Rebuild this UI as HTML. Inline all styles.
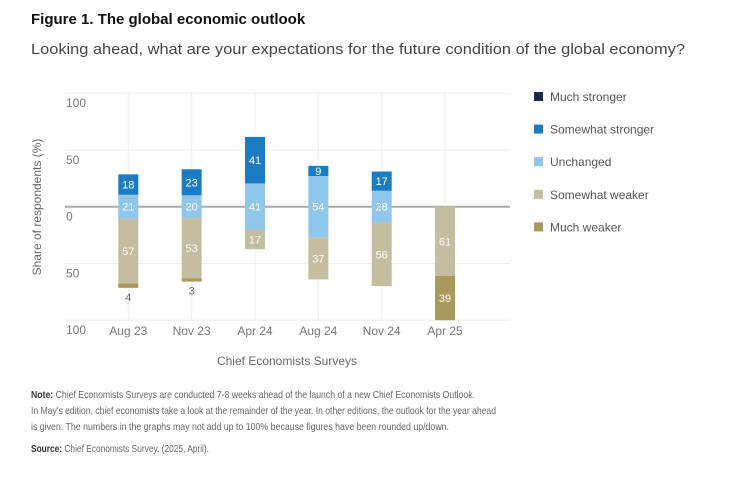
<!DOCTYPE html>
<html><head><meta charset="utf-8"><style>
body{margin:0;background:#fff;width:736px;height:475px;overflow:hidden;font-family:"Liberation Sans",sans-serif}
</style></head><body>
<svg id="c" width="736" height="475" xmlns="http://www.w3.org/2000/svg" font-family="Liberation Sans, sans-serif">
<text x="31" y="24" font-size="15" font-weight="bold" fill="#111">Figure 1. The global economic outlook</text>
<text x="31" y="54" font-size="15" fill="#444" textLength="654" lengthAdjust="spacingAndGlyphs">Looking ahead, what are your expectations for the future condition of the global economy?</text>
<g id="grid"></g>
<g id="bars"></g>
<g id="legend"></g>
<text transform="translate(41,207) rotate(-90)" text-anchor="middle" font-size="12" fill="#666">Share of respondents (%)</text>
<text x="287" y="365" text-anchor="middle" font-size="12" fill="#666">Chief Economists Surveys</text>
<g font-size="10.5" fill="#666">
<text x="31" y="398" textLength="444" lengthAdjust="spacingAndGlyphs"><tspan font-weight="bold" fill="#333">Note:</tspan> Chief Economists Surveys are conducted 7-8 weeks ahead of the launch of a new Chief Economists Outlook.</text>
<text x="31" y="414" textLength="465" lengthAdjust="spacingAndGlyphs">In May's edition, chief economists take a look at the remainder of the year. In other editions, the outlook for the year ahead</text>
<text x="31" y="430" textLength="418" lengthAdjust="spacingAndGlyphs">is given. The numbers in the graphs may not add up to 100% because figures have been rounded up/down.</text>
<text x="31" y="452" textLength="178" lengthAdjust="spacingAndGlyphs"><tspan font-weight="bold" fill="#333">Source:</tspan> Chief Economists Survey. (2025, April).</text>
</g>
</svg>
<script>
const categories=["Aug 23","Nov 23","Apr 24","Aug 24","Nov 24","Apr 25"];
const muchStronger=[0,0,0,0,0,0];
const somewhatStronger=[18,23,41,9,17,0];
const unchanged=[21,20,41,54,28,0];
const somewhatWeaker=[57,53,17,37,56,61];
const muchWeaker=[4,3,0,0,0,39];
const yTicks=[100,50,0,-50,-100];
const seriesNames=["Much stronger","Somewhat stronger","Unchanged","Somewhat weaker","Much weaker"];
const colors=["#1b2a4a","#1a7dc4","#8ec6ec","#c3be9f","#a99a5b"];
const NS="http://www.w3.org/2000/svg";
const y0=206.7, k=1.135, xL=65, xR=510;
function y(v){return y0-v*k;}
function x(i){return 128.3+i*63.35;}
function mk(t,a,p){const e=document.createElementNS(NS,t);for(const n in a)e.setAttribute(n,a[n]);p.appendChild(e);return e;}
const g=document.getElementById('grid');
yTicks.forEach(t=>{
 const l=mk('line',{x1:xL,x2:xR,y1:y(t),y2:y(t),stroke:t===0?'#aaa':'#eee','stroke-width':t===0?2:1},g);
 
 
 const tx=mk('text',{x:66,y:y(t)+14,'font-size':12,fill:'#777'},g);tx.textContent=Math.abs(t);
 
 
});
categories.forEach((c,i)=>{
 const l=mk('line',{x1:x(i),x2:x(i),y1:y(100),y2:y(-100),stroke:'#eee'},g);
 
 
 const tx=mk('text',{x:x(i),y:335,'font-size':12,fill:'#777','text-anchor':'middle'},g);tx.textContent=c;
 
 
});
const b=document.getElementById('bars');
const bw=20;
categories.forEach((c,i)=>{
 const segs=[];
 let top=unchanged[i]/2;
 segs.push([unchanged[i]/2,-unchanged[i]/2,unchanged[i],2]);
 segs.push([top+somewhatStronger[i],top,somewhatStronger[i],1]);
 segs.push([top+somewhatStronger[i]+muchStronger[i],top+somewhatStronger[i],muchStronger[i],0]);
 let bot=-unchanged[i]/2;
 segs.push([bot,bot-somewhatWeaker[i],somewhatWeaker[i],3]);
 segs.push([bot-somewhatWeaker[i],bot-somewhatWeaker[i]-muchWeaker[i],muchWeaker[i],4]);
 segs.forEach(s=>{
  if(s[2]<=0)return;
  const r=mk('rect',{x:x(i)-bw/2,y:y(s[0]),width:bw,height:y(s[1])-y(s[0]),fill:colors[s[3]]},b);
  
  
  const small=s[2]<8;
  const ty=small?y(s[1])+13:(y(s[0])+y(s[1]))/2+4;
  const t=mk('text',{x:x(i),y:ty,'font-size':11,'text-anchor':'middle',fill:small?'#666':'#fff'},b);
  t.textContent=s[2];
  
  
 });
});
const lg=document.getElementById('legend');
seriesNames.forEach((n,i)=>{
 const gy=97+i*32.6;
 const e=mk('g',{},lg);
 
 
 mk('rect',{x:534,y:gy-5,width:9,height:9,fill:colors[i]},e);
 const t=mk('text',{x:550,y:gy+4,'font-size':12,fill:'#555'},e);t.textContent=n;
});
</script>
</body></html>
